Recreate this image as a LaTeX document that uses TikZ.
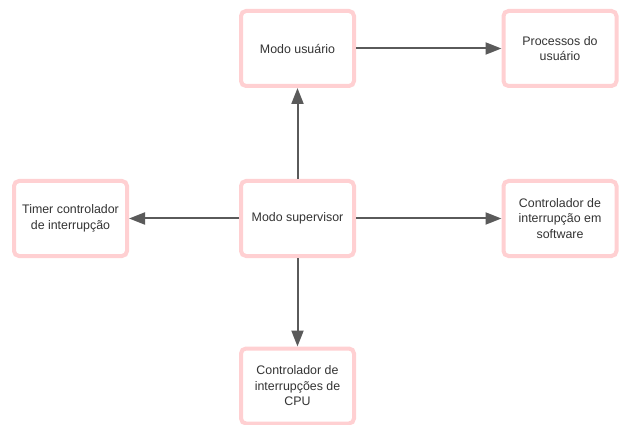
\documentclass[tikz,border=0pt]{standalone}
\usepackage{fontspec}
\setmainfont{Liberation Sans}
\usetikzlibrary{arrows.meta}
\definecolor{boxpink}{RGB}{255,208,210}
\definecolor{linegray}{RGB}{90,90,90}
\definecolor{textgray}{RGB}{51,51,51}
\tikzset{
  stepbox/.style={draw=boxpink, line width=4pt, rounded corners=5pt, fill=white,
    minimum width=113pt, minimum height=75pt, inner sep=2pt, align=center,
    text=textgray, font=\fontsize{12.4pt}{15.5pt}\selectfont},
  link/.style={draw=linegray, line width=2pt,
    -{Triangle[length=16pt,width=12pt]}}
}
\begin{document}
\begin{tikzpicture}[x=1pt,y=-1pt]
  \useasboundingbox (0,0) rectangle (619,425);
  \node[stepbox] (user)  at (297.5,48.5)  {Modo usuário};
  \node[stepbox] (proc)  at (560,48.5)    {Processos do\\usuário};
  \node[stepbox] (super) at (297.5,218.5) {Modo supervisor};
  \node[stepbox] (timer) at (70.5,218.5)  {Timer controlador\\de interrupção};
  \node[stepbox] (soft)  at (560,218.5)   {Controlador de\\interrupção em\\software};
  \node[stepbox] (cpu)   at (297.5,386)   {Controlador de\\interrupções de\\CPU};
  \draw[link] (super) -- (user);
  \draw[link] (user) -- (proc);
  \draw[link] (super) -- (timer);
  \draw[link] (super) -- (soft);
  \draw[link] (super) -- (cpu);
\end{tikzpicture}
\end{document}
